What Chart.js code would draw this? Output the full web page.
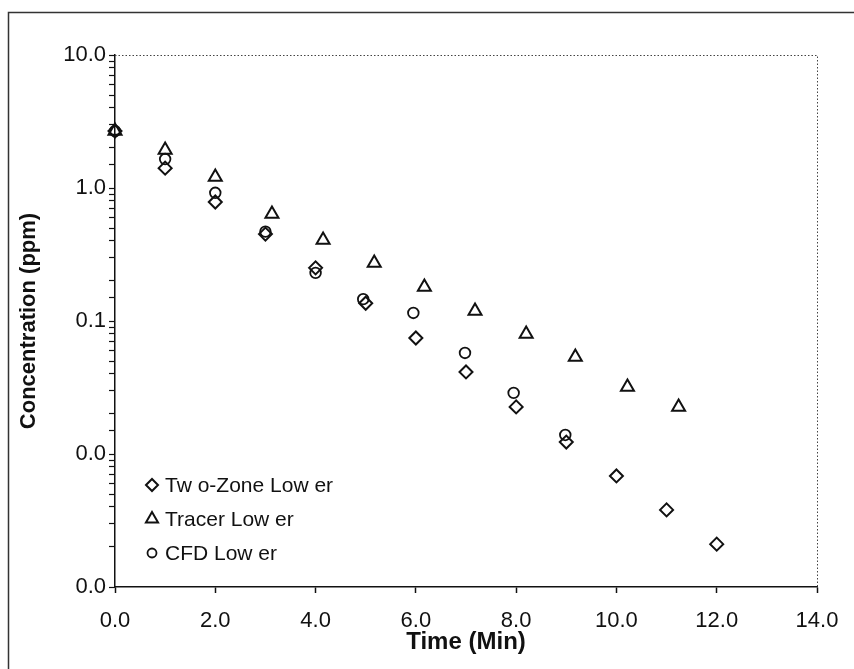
<!DOCTYPE html>
<html>
<head>
<meta charset="utf-8">
<script src="https://cdn.jsdelivr.net/npm/chart.js@4"></script>
<style>
  html, body { margin: 0; padding: 0; background: #fff; }
  #wrap { width: 854px; height: 669px; }
</style>
</head>
<body>
<div id="wrap"><canvas id="decayChart" width="854" height="669"></canvas></div>
<script>
// Concentration decay, lower zone
const twoZoneTime = [0, 1, 2, 3, 4, 5, 6, 7, 8, 9, 10, 11, 12];
const twoZoneConc = [2.68, 1.41, 0.785, 0.45, 0.251, 0.136, 0.0745, 0.0414, 0.0226, 0.0123, 0.00684, 0.0038, 0.0021];

const tracerTime = [0, 1, 2, 3.13, 4.15, 5.17, 6.17, 7.18, 8.2, 9.18, 10.22, 11.24];
const tracerConc = [2.68, 1.93, 1.21, 0.638, 0.406, 0.273, 0.18, 0.119, 0.0798, 0.0536, 0.0319, 0.0226];

const cfdTime = [0, 1, 2, 3, 4, 4.95, 5.95, 6.98, 7.95, 8.98];
const cfdConc = [2.68, 1.65, 0.92, 0.47, 0.23, 0.146, 0.115, 0.0575, 0.0288, 0.0139];

const seriesNames = ["Tw o-Zone Low er", "Tracer Low er", "CFD Low er"];
const xTicks = [0, 2, 4, 6, 8, 10, 12, 14];

const FONT = "'Liberation Sans', Arial, sans-serif";
const INK = "#111";

const toPoints = (xs, ys) => xs.map((x, i) => ({ x: x, y: ys[i] }));

// outer frame + dotted top/right border of the plot
const framePlugin = {
  id: "frame",
  beforeDraw(chart) {
    const ctx = chart.ctx;
    ctx.save();
    ctx.fillStyle = "#fff";
    ctx.fillRect(0, 0, chart.width, chart.height);
    ctx.strokeStyle = "#333";
    ctx.lineWidth = 1.5;
    ctx.beginPath();
    ctx.moveTo(8.5, chart.height);
    ctx.lineTo(8.5, 12.5);
    ctx.lineTo(chart.width, 12.5);
    ctx.stroke();
    ctx.restore();
  },
  afterDraw(chart) {
    const { ctx, chartArea: a } = chart;
    ctx.save();
    ctx.strokeStyle = "#444";
    ctx.lineWidth = 1;
    ctx.setLineDash([1.5, 2]);
    ctx.beginPath();
    ctx.moveTo(a.left, a.top + 0.5);
    ctx.lineTo(a.right + 0.5, a.top + 0.5);
    ctx.lineTo(a.right + 0.5, a.bottom);
    ctx.stroke();
    ctx.restore();
  }
};

// legend drawn inside the plot, bottom left, hollow markers
const insideLegend = {
  id: "insideLegend",
  afterDatasetsDraw(chart) {
    const ctx = chart.ctx;
    const a = chart.chartArea;
    const x0 = a.left + 37;
    const rows = [485, 519, 553];
    ctx.save();
    chart.data.datasets.forEach((ds, i) => {
      const y = rows[i];
      ctx.fillStyle = "rgba(0,0,0,0)";
      ctx.strokeStyle = INK;
      ctx.lineWidth = ds.borderWidth;
      Chart.helpers.drawPoint(ctx, {
        pointStyle: ds.pointStyle,
        radius: ds.legendRadius,
        rotation: 0,
        borderWidth: ds.borderWidth
      }, x0, y);
      ctx.fillStyle = INK;
      ctx.font = "21px " + FONT;
      ctx.textBaseline = "middle";
      ctx.textAlign = "left";
      ctx.fillText(ds.label, x0 + 13, y + 1);
    });
    ctx.restore();
  }
};

const ctx = document.getElementById("decayChart").getContext("2d");
new Chart(ctx, {
  type: "scatter",
  data: {
    datasets: [
      {
        label: seriesNames[0],
        data: toPoints(twoZoneTime, twoZoneConc),
        pointStyle: "rectRot",
        pointRadius: 6.5,
        legendRadius: 6,
        borderColor: INK,
        backgroundColor: "transparent",
        borderWidth: 2,
        clip: false
      },
      {
        label: seriesNames[1],
        data: toPoints(tracerTime, tracerConc),
        pointStyle: "triangle",
        pointRadius: 7.5,
        legendRadius: 7,
        borderColor: INK,
        backgroundColor: "transparent",
        borderWidth: 2,
        clip: false
      },
      {
        label: seriesNames[2],
        data: toPoints(cfdTime, cfdConc),
        pointStyle: "circle",
        pointRadius: 5.3,
        legendRadius: 4.5,
        borderColor: INK,
        backgroundColor: "transparent",
        borderWidth: 1.8,
        clip: false
      }
    ]
  },
  options: {
    responsive: false,
    animation: false,
    layout: { padding: { top: 55, right: 37, left: 0, bottom: 0 } },
    plugins: {
      legend: { display: false },
      tooltip: { enabled: false }
    },
    scales: {
      x: {
        type: "linear",
        min: 0,
        max: 14,
        afterBuildTicks: (s) => { s.ticks = xTicks.map((v) => ({ value: v })); },
        afterFit: (s) => { s.height = 82; },
        ticks: {
          color: INK,
          padding: 15,
          font: { family: FONT, size: 22 },
          callback: (v) => Number(v).toFixed(1)
        },
        grid: { drawOnChartArea: false, tickLength: 6, tickColor: INK, tickWidth: 1.5 },
        border: { color: INK, width: 1.5 },
        title: {
          display: true,
          text: "Time (Min)",
          color: INK,
          font: { family: FONT, size: 24, weight: "bold" },
          padding: { top: 0, bottom: 12 }
        }
      },
      y: {
        type: "logarithmic",
        min: 0.001,
        max: 10,
        afterFit: (s) => { s.width = 115; },
        ticks: {
          autoSkip: false,
          color: INK,
          padding: 3,
          font: { family: FONT, size: 22 },
          callback: (v) => {
            const e = Math.log10(v);
            return Math.abs(e - Math.round(e)) < 1e-6 ? Number(v).toFixed(1) : "";
          }
        },
        grid: { drawOnChartArea: false, tickLength: 6, tickColor: INK, tickWidth: 1.2 },
        border: { color: INK, width: 1.5 },
        title: {
          display: true,
          text: "Concentration (ppm)",
          color: INK,
          font: { family: FONT, size: 22, weight: "bold" },
          padding: { top: 16, bottom: 0 }
        }
      }
    }
  },
  plugins: [framePlugin, insideLegend]
});
</script>
</body>
</html>
